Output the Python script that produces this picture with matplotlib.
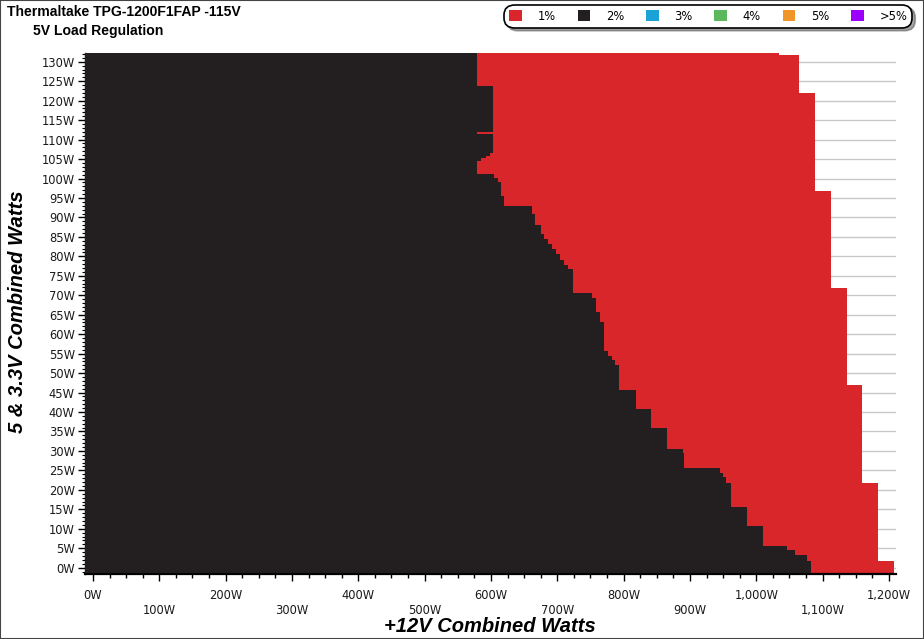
import matplotlib
matplotlib.use('Agg')
import matplotlib.pyplot as plt
from matplotlib.patches import Patch, Rectangle
from matplotlib.ticker import MultipleLocator


RED    = '#d8262b'
BLACK  = '#231f20'
BLUE   = '#1ba3d8'
GREEN  = '#5cb85c'
ORANGE = '#f0952a'
PURPLE = '#9b00ff'

# 5V & 3.3V load edges [W] and +12V load [W] where deviation drops 2% -> 1%
dev2_edges = [-1.3, 1.8, 3.2, 4.5, 5.5, 10.7, 15.5, 21.7, 23.2, 24.4, 25.7,
              29.4, 30.5, 35.8, 40.7, 45.7, 52.0, 53.4, 54.4, 55.7, 63.2,
              65.7, 69.2, 70.7, 76.8, 77.8, 79.1, 80.5, 81.9, 83.1, 84.5,
              85.7, 88.1, 90.8, 93.0, 95.6, 99.2, 100.2, 101.1, 104.6, 105.2,
              105.9, 106.5, 111.4, 111.9, 123.8, 132.2]
dev2_x     = [1082, 1076, 1058, 1046, 1010, 986, 962, 955, 950, 945,
              891, 889, 866, 841, 819, 793, 787, 782, 776, 770,
              765, 759, 752, 723, 716, 710, 704, 698, 692, 686,
              680, 675, 667, 662, 620, 615, 610, 605, 578.5, 585,
              592, 598.5, 603, 578.5, 603, 578.5]

# outer edge of the tested load range (1% region ends here)
dev1_edges = [-1.3, 1.8, 21.7, 46.9, 71.8, 96.9, 122.0, 131.7, 132.2]
dev1_x     = [1208, 1184, 1160, 1136, 1113, 1088, 1064, 1034]

x_ticks = list(range(0, 1201, 100))
y_ticks = list(range(0, 131, 5))

legend_labels = ['1%', '2%', '3%', '4%', '5%', '>5%']
legend_colors = [RED, BLACK, BLUE, GREEN, ORANGE, PURPLE]

X_MIN, X_MAX = -12.8, 1210.6
Y_MIN, Y_MAX = -1.5, 132.25

W, H = 924, 639

plt.rcParams['font.family'] = 'DejaVu Sans'

fig = plt.figure(figsize=(W / 100, H / 100), dpi=100)
ax = fig.add_axes([84.5 / W, 65.5 / H, 811.5 / W, 520.5 / H])

ax.yaxis.grid(True, color='#c8c8c8', lw=1.0)
ax.set_axisbelow(True)

ax.stairs(dev1_x, dev1_edges, orientation='horizontal', baseline=X_MIN,
          fill=True, color=RED, lw=0, zorder=2)
ax.stairs(dev2_x, dev2_edges, orientation='horizontal', baseline=X_MIN,
          fill=True, color=BLACK, lw=0, zorder=3)

ax.set_xlim(X_MIN, X_MAX)
ax.set_ylim(Y_MIN, Y_MAX)

ax.set_xticks(x_ticks)
ax.set_xticklabels([f'{v:,}W' if (v // 100) % 2 == 0 else f'\n{v:,}W'
                    for v in x_ticks])
ax.xaxis.set_minor_locator(MultipleLocator(25))
ax.set_yticks(y_ticks)
ax.set_yticklabels([f'{v}W' for v in y_ticks])
ax.yaxis.set_minor_locator(MultipleLocator(1))

ax.tick_params(axis='x', which='major', length=5, width=1, pad=6,
               labelsize=8.3, labelcolor='#1a1a1a')
ax.tick_params(axis='x', which='minor', length=3, width=1)
ax.tick_params(axis='y', which='major', length=5, width=1, pad=2,
               labelsize=8.3, labelcolor='#1a1a1a')
ax.tick_params(axis='y', which='minor', length=2.5, width=0.8)

for s in ('top', 'right'):
    ax.spines[s].set_visible(False)
ax.spines['bottom'].set_linewidth(1.6)
ax.spines['left'].set_linewidth(1.0)

lab_font = dict(family='Liberation Sans', weight='bold', style='italic',
                size=14.5, color='black')
fig.text(490 / W, 1 - 632.5 / H, '+12V Combined Watts', ha='center',
         va='baseline', **lab_font)
fig.text(18 / W, 1 - 312 / H, '5 & 3.3V Combined Watts', ha='center',
         va='center', rotation=90, **lab_font)

ttl_font = dict(family='Liberation Sans', weight='bold', size=10.1,
                color='black')
fig.text(7 / W, 1 - 15.5 / H, 'Thermaltake TPG-1200F1FAP -115V',
         ha='left', va='baseline', **ttl_font)
fig.text(33 / W, 1 - 35 / H, '5V Load Regulation',
         ha='left', va='baseline', **ttl_font)

handles = [Patch(facecolor=c, edgecolor='none') for c in legend_colors]
leg = fig.legend(handles, legend_labels, ncol=6, loc='upper right',
                 bbox_to_anchor=(909 / W, 1 - 8 / H), fontsize=8.3,
                 frameon=True, fancybox=True, shadow=True,
                 handlelength=1.1, handleheight=1.1, handletextpad=1.35,
                 columnspacing=1.9, borderpad=0.15, borderaxespad=0)
frame = leg.get_frame()
frame.set_edgecolor('black')
frame.set_linewidth(1.2)
frame.set_alpha(1)
frame.set_boxstyle('round,pad=0.3,rounding_size=0.9')

fig.patches.append(Rectangle((0, 0), 1, 1, transform=fig.transFigure,
                             fill=False, edgecolor='#444444', lw=1.5))

fig.savefig('out.png', dpi=100)
